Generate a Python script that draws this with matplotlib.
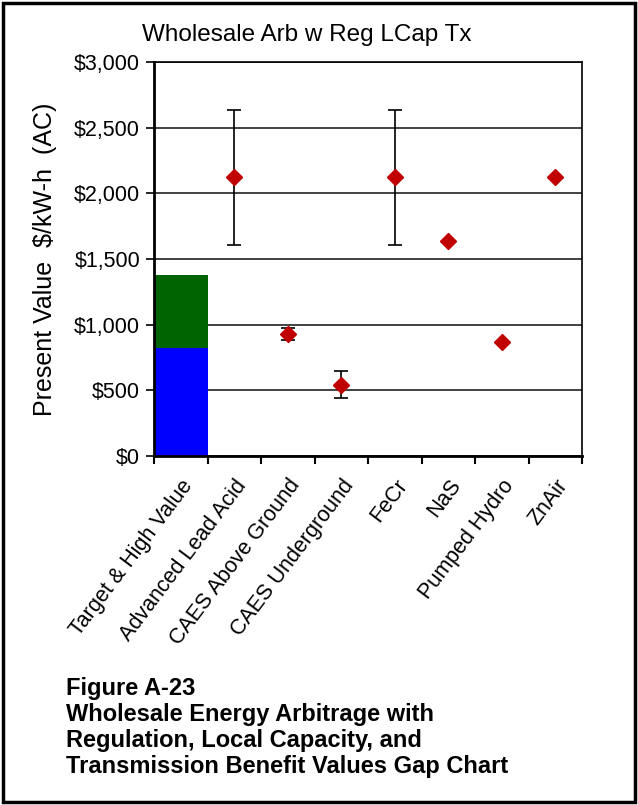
import matplotlib
matplotlib.use("Agg")
import matplotlib.pyplot as plt
from matplotlib.patches import Rectangle
import numpy as np

plt.rcParams['font.family'] = ['Liberation Sans', 'DejaVu Sans']

categories = ["Target & High Value", "Advanced Lead Acid", "CAES Above Ground",
              "CAES Underground", "FeCr", "NaS", "Pumped Hydro", "ZnAir"]
target_value = [825]
high_value_extra = [553]
point_values = [None, 2122, 931, 543, 2122, 1637, 868, 2122]
err_low = [None, 1609, 881, 442, 1609, None, None, None]
err_high = [None, 2635, 975, 647, 2635, None, None, None]
yticks = [0, 500, 1000, 1500, 2000, 2500, 3000]
ytick_labels = ["$0", "$500", "$1,000", "$1,500", "$2,000", "$2,500", "$3,000"]

fig = plt.figure(figsize=(6.38, 8.05), dpi=100)
ax = fig.add_axes([154/638, 1-456/805, (582-154)/638, (456-62)/805])

x = np.arange(len(categories))
ax.bar([0], target_value, width=1.0, color="#0000FF", zorder=2)
ax.bar([0], high_value_extra, bottom=target_value, width=1.0, color="#006400", zorder=2)

for i, v in enumerate(point_values):
    if v is None:
        continue
    if err_low[i] is not None:
        ax.errorbar(i, v, yerr=[[v - err_low[i]], [err_high[i] - v]], fmt="none",
                    ecolor="black", elinewidth=1.2, capsize=5, capthick=1.2, zorder=3)
    ax.plot(i, v, marker="D", color="#C00000", markersize=8, linestyle="none", zorder=4)

ax.set_xlim(-0.5, len(categories) - 0.5)
ax.set_ylim(0, 3000)
ax.set_yticks(yticks)
ax.set_yticklabels(ytick_labels, fontsize=15.5)
ax.yaxis.grid(True, color="#222222", linewidth=1.2, zorder=1)
ax.set_axisbelow(True)

ax.set_xticks(np.arange(-0.5, len(categories) + 0.5, 1.0))
ax.set_xticklabels([])
ax.set_xticks(x, minor=True)
ax.set_xticklabels(categories, minor=True, rotation=53, ha="right", rotation_mode="anchor", fontsize=15.5)
ax.tick_params(axis="x", which="minor", length=0, pad=14)
ax.tick_params(axis="x", which="major", length=6, width=1.5, direction="out")
ax.tick_params(axis="y", length=6, width=1.2, direction="out", pad=4)
for s in ax.spines.values():
    s.set_linewidth(1.2)
ax.spines["left"].set_linewidth(2)
ax.spines["bottom"].set_linewidth(2)

ax.set_ylabel("Present Value  $/kW-h  (AC)", fontsize=18)
ax.yaxis.set_label_coords(-(154 - 57) / 428, 0.5)
fig.text(307/638, 1 - 35/805, "Wholesale Arb w Reg LCap Tx",
         ha="center", va="center", fontsize=17.5)

caption = ["Figure A-23", "Wholesale Energy Arbitrage with",
           "Regulation, Local Capacity, and",
           "Transmission Benefit Values Gap Chart"]
for k, line in enumerate(caption):
    fig.text(66/638, 1 - (688 + 26*k)/805, line, ha="left", va="center",
             fontsize=17, fontweight="bold")

fig.patches.append(Rectangle((3/638, 3/805), 632/638, 799/805, transform=fig.transFigure,
                             fill=False, edgecolor="black", linewidth=2.5))

fig.savefig("out.png", dpi=100)
